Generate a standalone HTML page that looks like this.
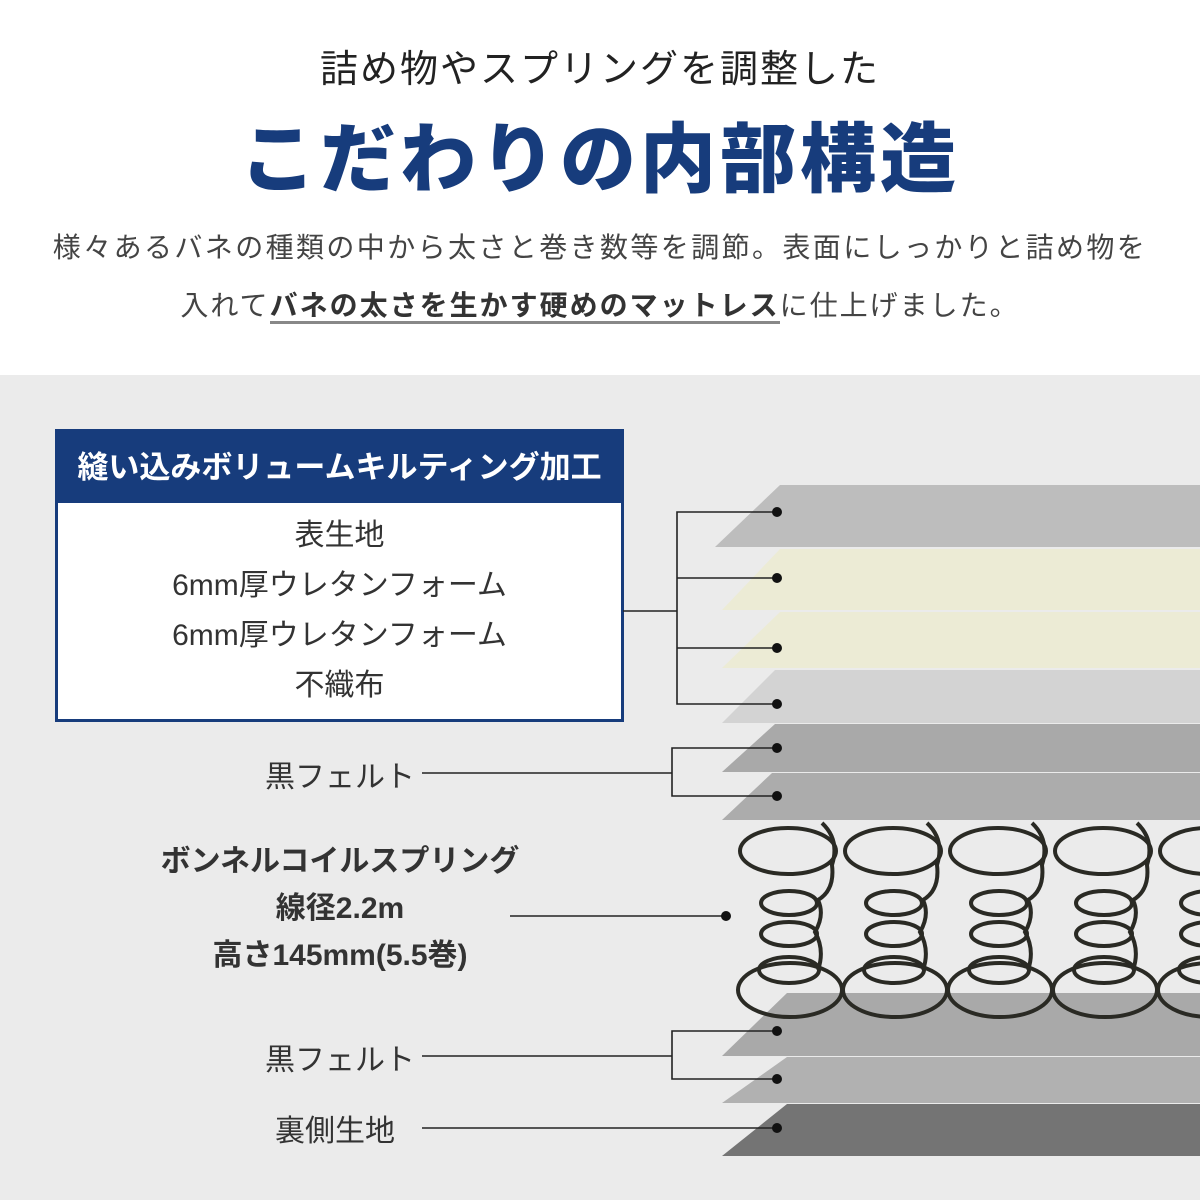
<!DOCTYPE html>
<html><head><meta charset="utf-8"><style>
*{margin:0;padding:0;box-sizing:border-box}
body{width:1200px;height:1200px;background:#fff;font-family:"Liberation Sans","Noto Sans CJK JP",sans-serif;position:relative;overflow:hidden;color:#333}
.t{position:absolute;left:0;width:1200px;text-align:center;white-space:nowrap}
</style></head><body>
<div class="t" style="top:38px;font-size:38px;color:#222;letter-spacing:2px">詰め物やスプリングを調整した</div>
<div class="t" style="top:98px;font-size:76px;font-weight:900;color:#173c7c;letter-spacing:4px">こだわりの内部構造</div>
<div class="t" style="top:226px;font-size:28px;color:#444;letter-spacing:2.4px">様々あるバネの種類の中から太さと巻き数等を調節。表面にしっかりと詰め物を</div>
<div class="t" style="top:284px;font-size:28px;color:#444;letter-spacing:2px">入れて<b style="color:#333;border-bottom:3px solid #888">バネの太さを生かす硬めのマットレス</b>に仕上げました。</div>
<div style="position:absolute;left:0;top:375px;width:1200px;height:825px;background:#ebebeb"></div>
<div style="position:absolute;left:55px;top:429px;width:569px;height:293px;border:3px solid #173c7c;background:#fff">
<div style="height:71px;background:#173c7c;color:#fff;font-size:31px;font-weight:bold;text-align:center;line-height:71px">縫い込みボリュームキルティング加工</div>
<div style="text-align:center;font-size:30px;line-height:50px;color:#333;padding-top:8px">表生地<br>6mm厚ウレタンフォーム<br>6mm厚ウレタンフォーム<br>不織布</div>
</div>
<div style="position:absolute;left:265px;top:752px;font-size:30px;color:#333">黒フェルト</div>
<div style="position:absolute;left:265px;top:1035px;font-size:30px;color:#333">黒フェルト</div>
<div style="position:absolute;left:275px;top:1106px;font-size:30px;color:#333">裏側生地</div>
<div style="position:absolute;left:140px;top:838px;width:400px;text-align:center;font-size:30px;font-weight:bold;line-height:47px;color:#333">ボンネルコイルスプリング<br>線径2.2m<br>高さ145mm(5.5巻)</div>
<svg style="position:absolute;left:0;top:0" width="1200" height="1200">
<g>
<polygon points="780,485 1200,485 1200,547 715,547" fill="#bdbdbd"/>
<polygon points="780,549 1200,549 1200,610 722,610" fill="#ecebd5"/>
<polygon points="780,612 1200,612 1200,668 722,668" fill="#ecebd5"/>
<polygon points="775,670 1200,670 1200,723 722,723" fill="#d3d3d3"/>
<polygon points="775,724 1200,724 1200,772 722,772" fill="#a9a9a9"/>
<polygon points="772,773 1200,773 1200,820 722,820" fill="#acacac"/>
<polygon points="787,993 1200,993 1200,1056 722,1056" fill="#a9a9a9"/>
<polygon points="787,1057 1200,1057 1200,1103 722,1103" fill="#b1b1b1"/>
<polygon points="787,1104 1200,1104 1200,1156 722,1156" fill="#747474"/>
</g>
<g fill="none" stroke="#2a2a24" stroke-width="4">
<g id="s">
<ellipse cx="788" cy="851" rx="48" ry="23"/>
<ellipse cx="789" cy="903" rx="28" ry="12"/>
<ellipse cx="789" cy="934" rx="28" ry="12"/>
<ellipse cx="789" cy="970" rx="30" ry="13"/>
<ellipse cx="790" cy="990" rx="52" ry="27"/>
<path d="M822,823 Q840,840 832,865 Q835,890 818,900 Q825,915 815,932 Q825,950 818,970"/>
</g>
<use href="#s" x="105"/><use href="#s" x="210"/><use href="#s" x="315"/><use href="#s" x="420"/>
</g>
<g stroke="#222" stroke-width="1.6" fill="none">
<polyline points="623,611 677,611"/>
<polyline points="777,512 677,512 677,704 777,704"/>
<line x1="677" y1="578" x2="777" y2="578"/>
<line x1="677" y1="648" x2="777" y2="648"/>
<line x1="422" y1="773" x2="672" y2="773"/>
<polyline points="777,748 672,748 672,796 777,796"/>
<line x1="510" y1="916" x2="726" y2="916"/>
<line x1="422" y1="1056" x2="672" y2="1056"/>
<polyline points="777,1031 672,1031 672,1079 777,1079"/>
<line x1="422" y1="1128" x2="777" y2="1128"/>
</g>
<g fill="#111">
<circle cx="777" cy="512" r="5"/><circle cx="777" cy="578" r="5"/><circle cx="777" cy="648" r="5"/><circle cx="777" cy="704" r="5"/>
<circle cx="777" cy="748" r="5"/><circle cx="777" cy="796" r="5"/><circle cx="726" cy="916" r="5"/>
<circle cx="777" cy="1031" r="5"/><circle cx="777" cy="1079" r="5"/><circle cx="777" cy="1128" r="5"/>
</g>
</svg>
</body></html>
